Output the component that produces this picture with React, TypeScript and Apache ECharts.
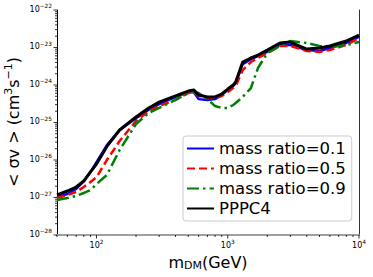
import React, { useEffect, useRef } from 'react';
import * as echarts from 'echarts';

const masses = [50, 60, 70, 80, 90, 100, 120, 150, 200, 250, 300, 400, 500, 550, 600, 700, 800, 900, 1000, 1100, 1150, 1300, 1500, 1700, 2000, 2500, 3000, 4000, 5000, 6000, 8000, 10000];

const ratio01 = [1.03e-27, 1.24e-27, 1.69e-27, 2.75e-27, 4.8e-27, 8.8e-27, 2.5e-26, 6.3e-26, 1.3e-25, 2.2e-25, 3.1e-25, 4.8e-25, 6.5e-25, 6.5e-25, 4.2e-25, 4.0e-25, 4.2e-25, 5.4e-25, 7.4e-25, 9.4e-25, 1.13e-24, 3.6e-24, 4.9e-24, 5.9e-24, 7.6e-24, 1.17e-23, 1.17e-23, 8.6e-24, 8.1e-24, 9.7e-24, 1.32e-23, 1.91e-23];

const ratio05 = [9.7e-28, 1.17e-27, 1.4e-27, 1.9e-27, 2.6e-27, 3.5e-27, 1.0e-26, 3.2e-26, 1.1e-25, 2.0e-25, 2.75e-25, 4.0e-25, 6.1e-25, 6.5e-25, 5.1e-25, 4.5e-25, 4.5e-25, 5.1e-25, 6.5e-25, 8.3e-25, 9.4e-25, 2.5e-24, 4.1e-24, 5.25e-24, 7.1e-24, 1.1e-23, 1.1e-23, 8.1e-24, 7.6e-24, 8.6e-24, 1.17e-23, 1.79e-23];

const ratio09 = [8.6e-28, 9.7e-28, 1.1e-27, 1.32e-27, 1.58e-27, 2.29e-27, 4.0e-27, 1.85e-26, 9.1e-26, 1.79e-25, 2.44e-25, 4.0e-25, 6.1e-25, 6.5e-25, 6.1e-25, 4.2e-25, 2.75e-25, 2.44e-25, 2.44e-25, 2.93e-25, 3.3e-25, 4.8e-25, 8.3e-25, 2.84e-24, 7.1e-24, 1.1e-23, 1.49e-23, 1.32e-23, 1.1e-23, 1.03e-23, 1.17e-23, 1.4e-23];

const pppc4 = [1.17e-27, 1.49e-27, 1.9e-27, 2.75e-27, 4.8e-27, 7.8e-27, 2.3e-26, 6.3e-26, 1.4e-25, 2.44e-25, 3.5e-25, 5.1e-25, 6.9e-25, 7.4e-25, 5.4e-25, 4.8e-25, 4.8e-25, 5.75e-25, 7.8e-25, 1.0e-24, 1.2e-24, 4.1e-24, 5.25e-24, 6.3e-24, 8.6e-24, 1.32e-23, 1.4e-23, 9.1e-24, 9.7e-24, 1.1e-23, 1.49e-23, 2.15e-23];

const seriesNames = ['mass ratio=0.1', 'mass ratio=0.5', 'mass ratio=0.9', 'PPPC4'];

const xMin = 50;
const xMax = 10000;
const yMin = 1e-28;
const yMax = 1e-22;
const xDecades = [10, 100, 1000, 10000];
const yDecades = [1e-28, 1e-27, 1e-26, 1e-25, 1e-24, 1e-23, 1e-22];
const minorMultipliers = [2, 3, 4, 5, 6, 7, 8, 9];

const FONT = 'DejaVu Sans';

function buildTicks() {
  const out: number[][] = [];
  xDecades.forEach((d) => {
    if (d >= xMin && d <= xMax) out.push([d, yMin, 0, 1]);
    minorMultipliers.forEach((m) => {
      const v = d * m;
      if (v >= xMin - 1e-9 && v <= xMax) out.push([v, yMin, 0, 0]);
    });
  });
  yDecades.forEach((d) => {
    out.push([xMin, d, 1, 1]);
    if (d < yMax) {
      minorMultipliers.forEach((m) => out.push([xMin, d * m, 1, 0]));
    }
  });
  return out;
}

function expLabel(v: number) {
  const e = Math.round(Math.log10(v));
  const s = e < 0 ? '\u2212' + -e : String(e);
  return `{b|10}{s|${s}}`;
}

const labelRich = {
  b: { fontSize: 8, fontFamily: FONT, fill: '#000' },
  s: { fontSize: 5.8, fontFamily: FONT, fill: '#000', padding: [0, 0, 6, 0] },
};

export default function App() {
  const ref = useRef<HTMLDivElement>(null);
  useEffect(() => {
    const chart = echarts.init(ref.current!, null, { renderer: 'svg' });
    const pair = (ys: number[]) => masses.map((m, i) => [m, ys[i]]);
    const option: any = {
      animation: false,
      backgroundColor: '#fff',
      grid: { left: 57, right: 14, top: 10, bottom: 42, containLabel: false, outerBoundsMode: 'none' },
      graphic: [
        {
          type: 'text',
          x: 13,
          y: 122,
          rotation: Math.PI / 2,
          style: {
            text: '< σv > (cm{sup|3}s{sup|\u22121})',
            fontSize: 16,
            fontFamily: FONT,
            fill: '#000',
            align: 'center',
            verticalAlign: 'middle',
            rich: {
              sup: { fontSize: 11, fontFamily: FONT, fill: '#000', padding: [0, 0, 9, 0] },
            },
          },
        },
      ],
      legend: {
        data: seriesNames,
        orient: 'vertical',
        left: 183,
        top: 136,
        padding: [4, 6, 4, 3],
        itemGap: 3,
        itemWidth: 27,
        itemHeight: 12,
        itemStyle: { opacity: 0 },
        backgroundColor: 'rgba(255,255,255,0.85)',
        borderColor: '#cccccc',
        borderWidth: 1,
        borderRadius: 3,
        textStyle: { fontSize: 16.5, fontFamily: FONT, color: '#000', lineHeight: 16 },
      },
      xAxis: [
        {
          type: 'log',
          logBase: 10,
          min: xMin,
          max: xMax,
          name: '{t|m}{sub|DM}{t|(GeV)}',
          nameLocation: 'middle',
          nameGap: 18,
          nameTextStyle: {
            rich: {
              t: { fontSize: 16, fontFamily: FONT, color: '#000' },
              sub: { fontSize: 11, fontFamily: FONT, color: '#000', padding: [7, 0, 0, 0] },
            },
          },
          axisLine: { show: true, lineStyle: { color: '#000', width: 1 } },
          axisTick: { show: false },
          splitLine: { show: false },
          minorTick: { show: false },
          axisLabel: { show: false },
        },
        {
          type: 'log',
          logBase: 10,
          min: xMin,
          max: xMax,
          position: 'top',
          axisLine: { show: true, lineStyle: { color: '#a0a0a0', width: 2 } },
          axisTick: { show: false },
          axisLabel: { show: false },
          splitLine: { show: false },
        },
      ],
      yAxis: [
        {
          type: 'log',
          logBase: 10,
          min: yMin,
          max: yMax,
          axisLine: { show: true, lineStyle: { color: '#000', width: 1 } },
          axisTick: { show: false },
          splitLine: { show: false },
          axisLabel: { show: false },
        },
        {
          type: 'log',
          logBase: 10,
          min: yMin,
          max: yMax,
          position: 'right',
          axisLine: { show: true, lineStyle: { color: '#333', width: 1 } },
          axisTick: { show: false },
          axisLabel: { show: false },
          splitLine: { show: false },
        },
      ],
      series: [
        {
          name: seriesNames[0],
          type: 'line',
          data: pair(ratio01),
          showSymbol: false,
          symbol: 'none',
          lineStyle: { color: '#0000ff', width: 2.5 },
          itemStyle: { color: '#0000ff' },
        },
        {
          name: seriesNames[1],
          type: 'line',
          data: pair(ratio05),
          showSymbol: false,
          symbol: 'none',
          lineStyle: { color: '#ff0000', width: 2.5, type: [8, 4] },
          itemStyle: { color: '#ff0000' },
        },
        {
          name: seriesNames[2],
          type: 'line',
          data: pair(ratio09),
          showSymbol: false,
          symbol: 'none',
          lineStyle: { color: '#008000', width: 2.5, type: [12, 4, 2.5, 4] },
          itemStyle: { color: '#008000' },
        },
        {
          name: seriesNames[3],
          type: 'line',
          data: pair(pppc4),
          showSymbol: false,
          symbol: 'none',
          lineStyle: { color: '#000000', width: 3 },
          itemStyle: { color: '#000000' },
        },
        {
          type: 'custom',
          silent: true,
          clip: false,
          z: 10,
          data: buildTicks(),
          encode: { x: 0, y: 1 },
          renderItem: (params: any, api: any) => {
            const kind = api.value(2);
            const major = api.value(3);
            const xv = api.value(0);
            const yv = api.value(1);
            const p = api.coord([xv, yv]);
            const len = major ? 3.5 : 2;
            const shape =
              kind === 0
                ? { x1: p[0], y1: p[1], x2: p[0], y2: p[1] + len }
                : { x1: p[0] - len, y1: p[1], x2: p[0], y2: p[1] };
            const line = { type: 'line', shape, style: { stroke: '#000', lineWidth: 0.8 } };
            if (!major) return line;
            const text =
              kind === 0
                ? {
                    type: 'text',
                    x: p[0],
                    y: p[1] + 4,
                    style: { text: expLabel(xv), rich: labelRich, align: 'center', verticalAlign: 'top', fill: '#000' },
                  }
                : {
                    type: 'text',
                    x: p[0] - 5,
                    y: p[1] - 1,
                    style: { text: expLabel(yv), rich: labelRich, align: 'right', verticalAlign: 'middle', fill: '#000' },
                  };
            return { type: 'group', children: [line, text] };
          },
        },
      ],
    };
    chart.setOption(option);
    return () => chart.dispose();
  }, []);
  return <div ref={ref} style={{ position: 'fixed', left: 0, top: 0, width: 373, height: 277 }} />;
}
